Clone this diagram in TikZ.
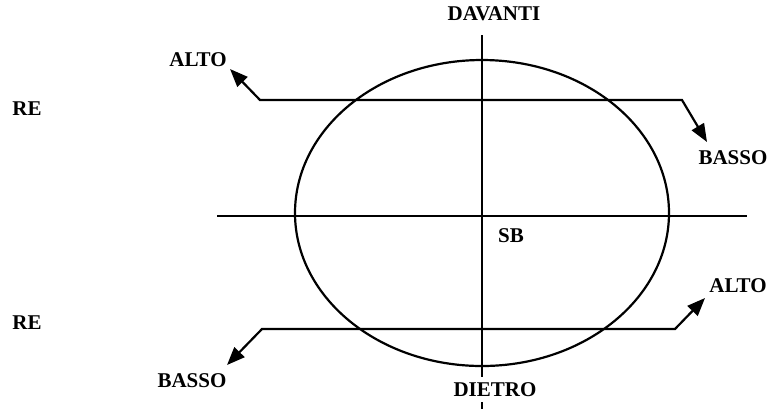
\documentclass[tikz,border=0pt]{standalone}
\usepackage{fontspec}
\setmainfont{Liberation Serif}
\usetikzlibrary{arrows.meta}

\begin{document}
\begin{tikzpicture}[x=0.5pt, y=-0.5pt, line width=1.1pt,
    lbl/.style={font=\fontsize{10.5}{12}\selectfont\bfseries, inner sep=0pt},
    tip/.style={{Triangle[length=9pt,width=7pt]}-{Triangle[length=9pt,width=7pt]}}]
    \useasboundingbox (0,0) rectangle (777,409);

    % Circle
    \draw (482,213) ellipse [x radius=187, y radius=153];

    % Axes
    \coordinate (front) at (482,35);
    \coordinate (back) at (482,377);
    \coordinate (left) at (217,216);
    \coordinate (right) at (747,216);
    \draw (front) -- (back);
    \draw (left) -- (right);

    % Labels
    \node[lbl] (davanti) at (494,14) {DAVANTI};
    \node[lbl] (dietro) at (495,390) {DIETRO};
    \node[lbl] (sb) at (511,236) {SB};
    \node[lbl] (re1) at (27,109) {RE};
    \node[lbl] (re2) at (27,323) {RE};
    \node[lbl] (alto1) at (198,60) {ALTO};
    \node[lbl] (basso1) at (733,158) {BASSO};
    \node[lbl] (alto2) at (738,286) {ALTO};
    \node[lbl] (basso2) at (192,381) {BASSO};

    % Tick below DIETRO
    \coordinate (tick) at (482,409);
    \draw (dietro.south -| front) ++(0,4) -- (tick);

    % Upper arrow
    \coordinate (ua) at (230,69);
    \coordinate (ul) at (260,100);
    \coordinate (ur) at (682,100);
    \coordinate (ub) at (707,142);
    \draw[tip] (ua) -- (ul) -- (ur) -- (ub);

    % Lower arrow
    \coordinate (la) at (227,365);
    \coordinate (ll) at (262,329);
    \coordinate (lr) at (675,329);
    \coordinate (lb) at (705,298);
    \draw[tip] (la) -- (ll) -- (lr) -- (lb);
\end{tikzpicture}
\end{document}
